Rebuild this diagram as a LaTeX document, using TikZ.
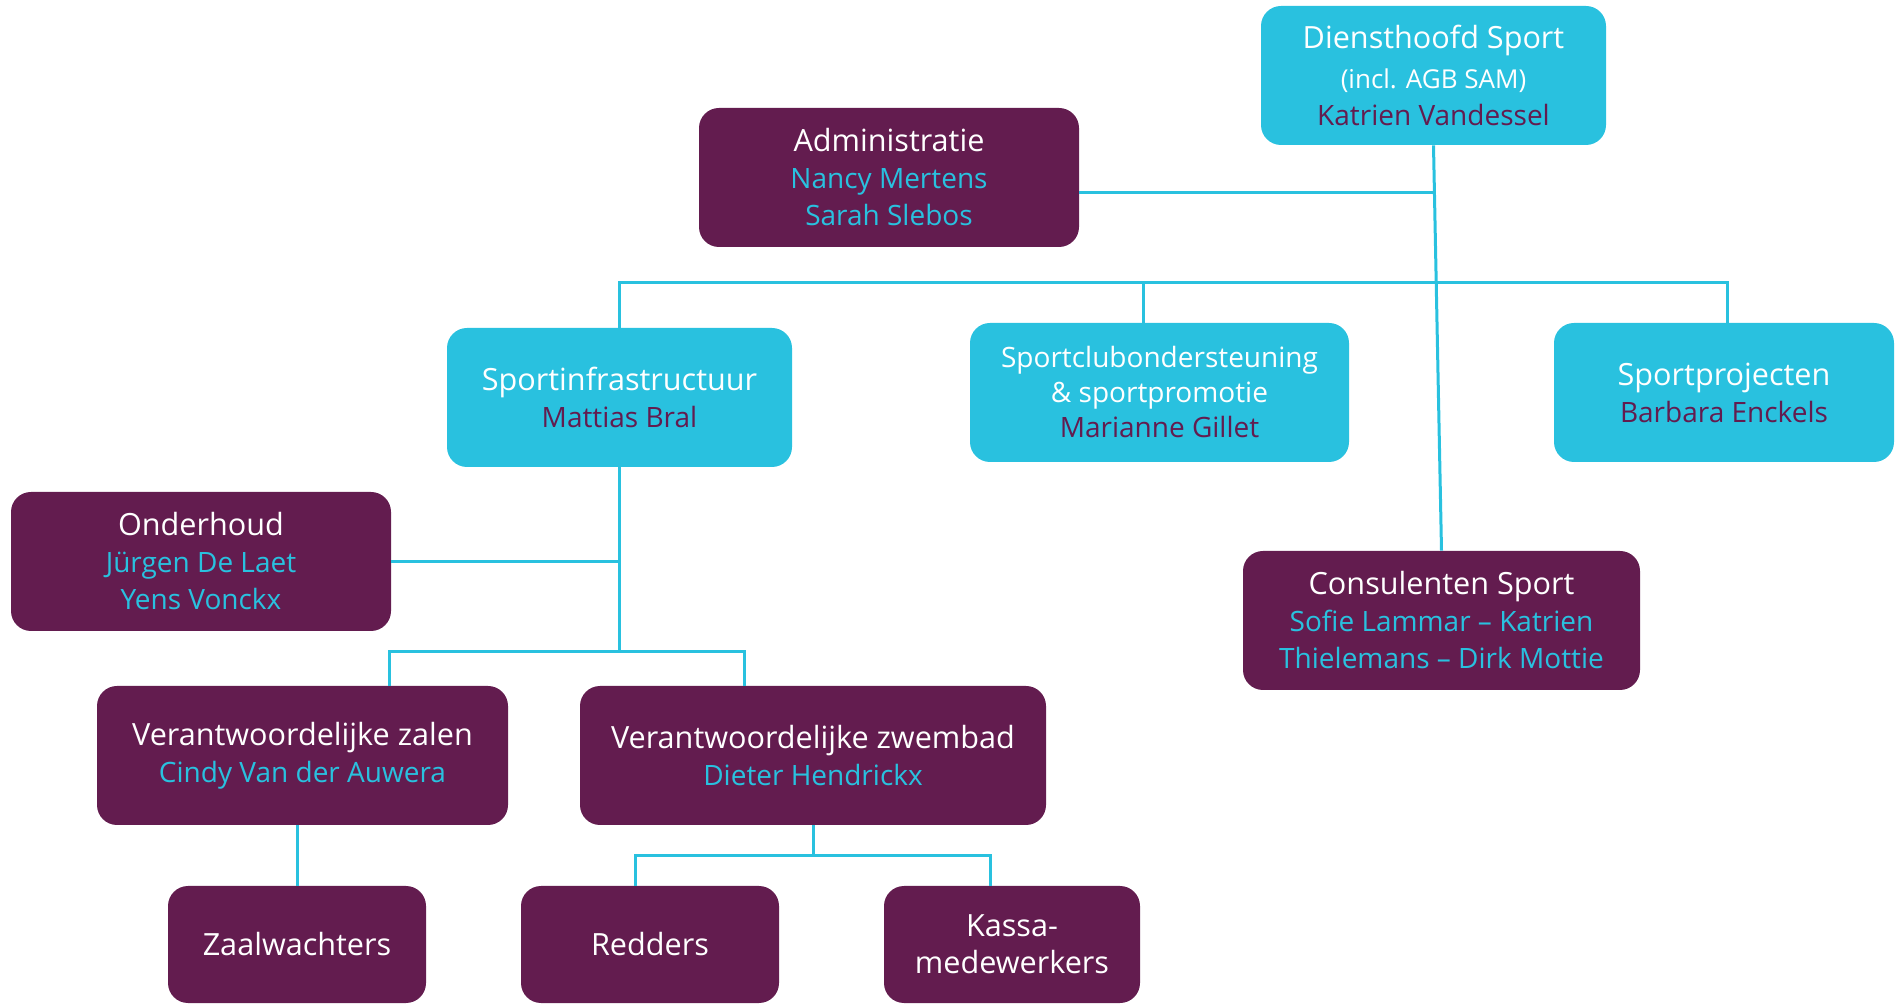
\documentclass[tikz,border=0pt]{standalone}
\usepackage{fontspec}
\setmainfont{Open Sans}[Ligatures=NoCommon]
\usepackage{xcolor}
\definecolor{cCyan}{HTML}{29C1DF}
\definecolor{cPlum}{HTML}{631C4F}
\usepackage{tikz}
\usetikzlibrary{positioning,calc}
\tikzset{
  node-box/.style={rounded corners=10pt,align=center,inner sep=0pt,
    font=\fontsize{14}{18.5}\selectfont,text=white},
  % twee kleuren: cyaan (leiding/teams) en paars (diensten/personeel)
  node-cyan/.style={fill=cCyan},
  node-plum/.style={fill=cPlum},
  link/.style={draw=cCyan,line width=1.5pt},
}
\newcommand{\ttl}[1]{{\fontsize{15.3}{18.5}\selectfont #1}}
\newcommand{\nmPlum}[1]{\textcolor{cPlum}{#1}}
\newcommand{\nmCyan}[1]{\textcolor{cCyan}{#1}}

\begin{document}
\begin{tikzpicture}[x=0.5pt,y=-0.5pt]
  \useasboundingbox (0,0) rectangle (1896,1004);
  % bovenste laag
  \node[node-box,node-cyan,minimum width=172.5pt,minimum height=69.5pt] (dh) at (1433.5,75.5)
    {\ttl{Diensthoofd Sport}\\[1.5pt]{\fontsize{13}{15}\selectfont (incl. AGB SAM)}\\\nmPlum{Katrien Vandessel}};
  \node[node-box,node-plum,minimum width=190pt,minimum height=69.5pt] (admin) at (889,177.5)
    {\ttl{Administratie}\\\nmCyan{Nancy Mertens}\\\nmCyan{Sarah Slebos}};
  % teams
  \node[node-box,node-cyan,minimum width=172.5pt,minimum height=69.5pt] (infra) at (619.5,397.5)
    {\ttl{Sportinfrastructuur}\\\nmPlum{Mattias Bral}};
  \node[node-box,node-cyan,minimum width=189.5pt,minimum height=69.5pt,
    font=\fontsize{14}{17.5}\selectfont] (club) at (1159.5,392.5)
    {Sportclubondersteuning\\\& sportpromotie\\\nmPlum{Marianne Gillet}};
  \node[node-box,node-cyan,minimum width=170pt,minimum height=69.5pt] (proj) at (1724,392.5)
    {\ttl{Sportprojecten}\\\nmPlum{Barbara Enckels}};
  \node[node-box,node-plum,minimum width=190pt,minimum height=69.5pt] (onder) at (201,561.5)
    {\ttl{Onderhoud}\\\nmCyan{Jürgen De Laet}\\\nmCyan{Yens Vonckx}};
  \node[node-box,node-plum,minimum width=198.5pt,minimum height=69.5pt] (cons) at (1441.5,620.5)
    {\ttl{Consulenten Sport}\\\nmCyan{Sofie Lammar – Katrien}\\\nmCyan{Thielemans – Dirk Mottie}};
  % verantwoordelijken
  \node[node-box,node-plum,minimum width=205.5pt,minimum height=69.5pt] (zalen) at (302.5,755.5)
    {\ttl{Verantwoordelijke zalen}\\\nmCyan{Cindy Van der Auwera}};
  \node[node-box,node-plum,minimum width=233pt,minimum height=69.5pt] (zwembad) at (813,755.5)
    {\ttl{Verantwoordelijke zwembad}\\\nmCyan{Dieter Hendrickx}};
  % personeel
  \node[node-box,node-plum,minimum width=129pt,minimum height=58.5pt] (zaal) at (297,944.5)
    {\ttl{Zaalwachters}};
  \node[node-box,node-plum,minimum width=129pt,minimum height=58.5pt] (redders) at (650,944.5)
    {\ttl{Redders}};
  \node[node-box,node-plum,minimum width=128pt,minimum height=58.5pt] (kassa) at (1012,944.5)
    {\ttl{Kassa-}\\\ttl{medewerkers}};

  \coordinate (j-admin) at (1434,193);
  \coordinate (bus-l) at (619,283);
  \coordinate (bus-club) at (1143,283);
  \coordinate (bus-r) at (1727,283);
  \coordinate (fork-l) at (389,652);
  \coordinate (fork-r) at (744,652);
  \coordinate (pool-l) at (635,856);
  \coordinate (pool-r) at (990,856);

  \draw[link] (dh.south) -- (cons.north);
  \draw[link] (admin.east |- j-admin) -- (j-admin);
  \draw[link] (infra.north -| bus-l) |- (bus-r) -- (proj.north -| bus-r);
  \draw[link] (bus-club) -- (club.north -| bus-club);
  \draw[link] (infra.south) -- (infra.south |- fork-l);
  \draw[link] (onder.east) -- (onder.east -| infra.south);
  \draw[link] (zalen.north -| fork-l) |- (fork-r) -- (zwembad.north -| fork-r);
  \draw[link] (zaal.north) -- (zaal.north |- zalen.south);
  \draw[link] (zwembad.south) -- (zwembad.south |- pool-l);
  \draw[link] (redders.north -| pool-l) |- (pool-r) -- (kassa.north -| pool-r);
\end{tikzpicture}
\end{document}
